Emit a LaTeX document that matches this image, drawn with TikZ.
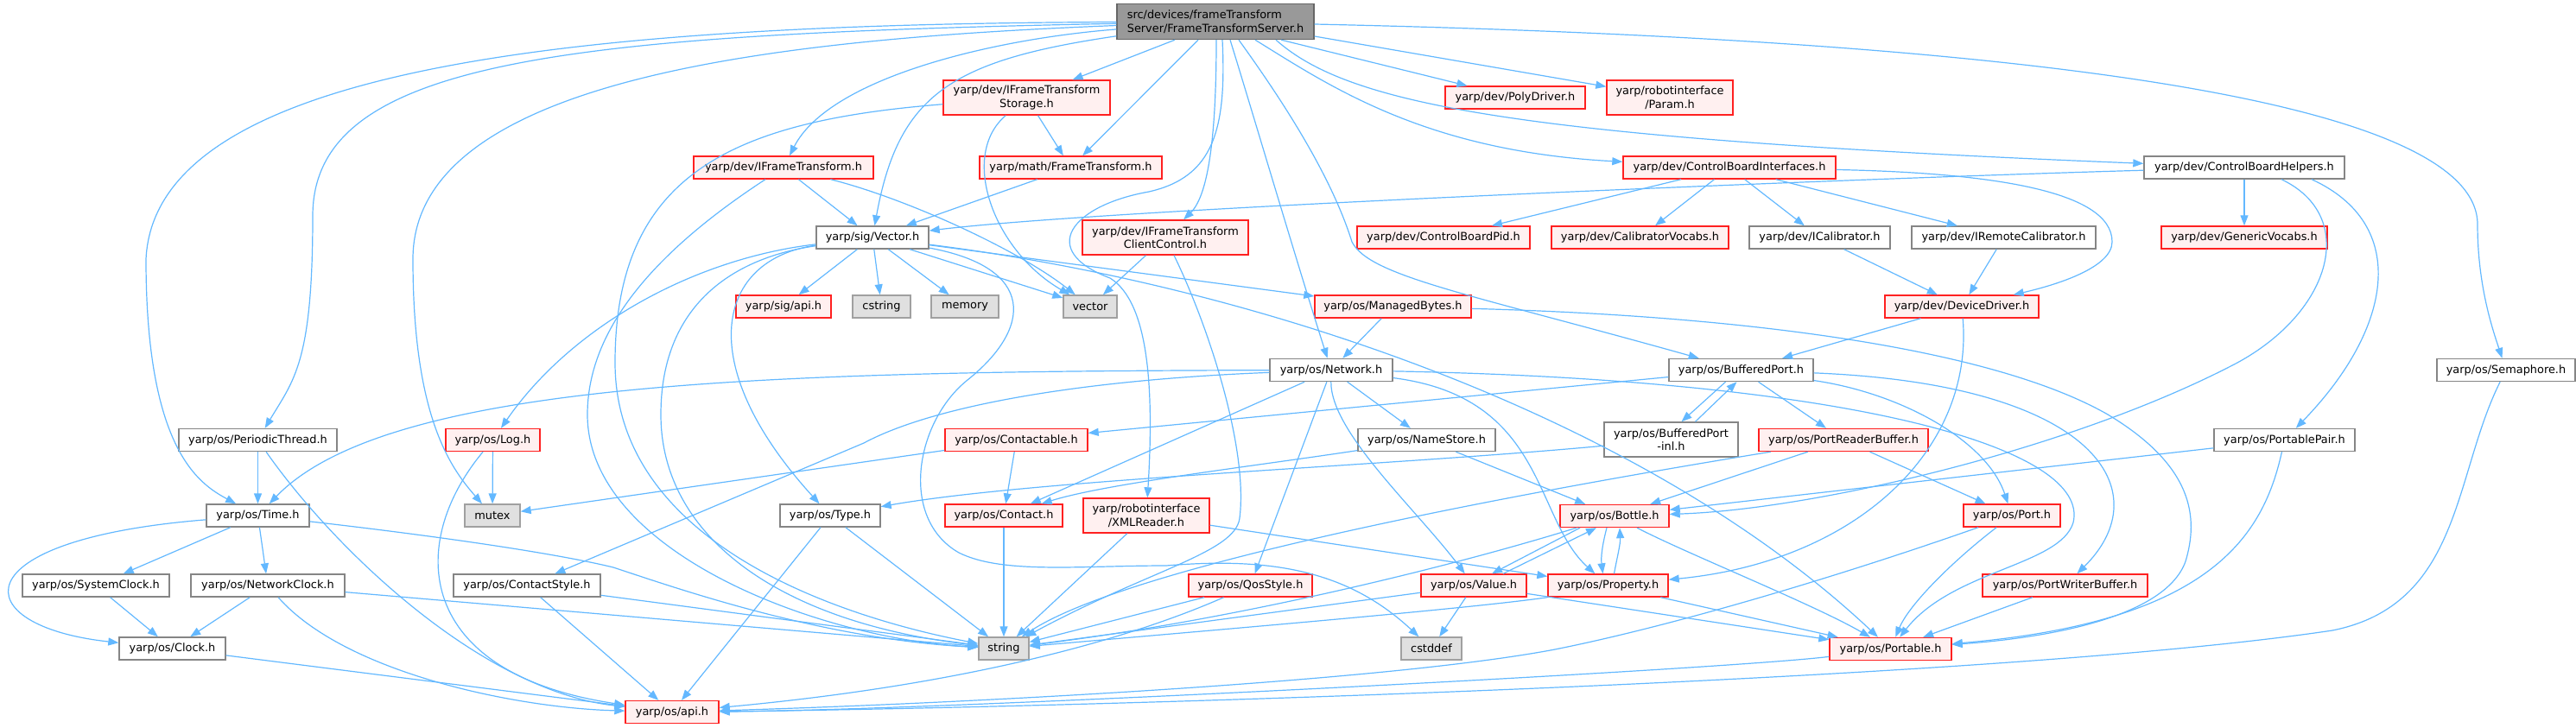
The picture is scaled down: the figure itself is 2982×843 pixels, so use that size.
\documentclass[tikz,border=0pt]{standalone}
\usepackage{fontspec}
\setmainfont{DejaVu Sans}
\usetikzlibrary{arrows.meta}

\definecolor{edgeblue}{HTML}{63B8FF}
\definecolor{redfill}{HTML}{FFF0F0}
\definecolor{redline}{HTML}{FF2020}
\definecolor{plainline}{HTML}{858585}
\definecolor{stdfill}{HTML}{E0E0E0}
\definecolor{stdline}{HTML}{A0A0A0}
\definecolor{srcfill}{HTML}{999999}
\definecolor{srcline}{HTML}{666666}

\begin{document}
\begin{tikzpicture}[
        x=1pt, y=-1pt,
        header/.style={
            draw=plainline,
            fill=white,
            line width=1.4pt,
            inner sep=0pt,
            align=center,
            minimum height=26pt,
            font=\fontsize{12.9}{15.6}\selectfont
        },
        docheader/.style={header, draw=redline, fill=redfill},
        stdheader/.style={header, draw=stdline, fill=stdfill},
        srcfile/.style={header, draw=srcline, fill=srcfill, align=left},
        flow/.style={draw=edgeblue, line width=1.2pt,
            -{Triangle[length=12pt,width=9pt]}}
    ]
    \useasboundingbox (0,0) rectangle (2982,843);

    % the file itself
    \node[srcfile, minimum width=228pt, minimum height=41pt] (root) at (1407,25)
        {src/devices/frameTransform\\Server/FrameTransformServer.h};

    % first rows
    \node[docheader, minimum width=193pt, minimum height=40pt] (storage) at (1188.5,113)
        {yarp/dev/IFrameTransform\\Storage.h};
    \node[docheader, minimum width=162pt] (polydrv) at (1754,113) {yarp/dev/PolyDriver.h};
    \node[docheader, minimum width=146pt, minimum height=40pt] (param) at (1933,113)
        {yarp/robotinterface\\/Param.h};

    \node[docheader, minimum width=208pt] (iftrans) at (907,194) {yarp/dev/IFrameTransform.h};
    \node[docheader, minimum width=211pt] (mathft) at (1239.5,194) {yarp/math/FrameTransform.h};
    \node[docheader, minimum width=246pt] (cbifaces) at (2002,194) {yarp/dev/ControlBoardInterfaces.h};
    \node[header, minimum width=232pt] (cbhelpers) at (2598,194) {yarp/dev/ControlBoardHelpers.h};

    \node[header, minimum width=130pt] (vec) at (1010,275) {yarp/sig/Vector.h};
    \node[docheader, minimum width=192pt, minimum height=40pt] (clientctl) at (1349,275)
        {yarp/dev/IFrameTransform\\ClientControl.h};
    \node[docheader, minimum width=200pt] (cbpid) at (1671,275) {yarp/dev/ControlBoardPid.h};
    \node[docheader, minimum width=205pt] (calvocabs) at (1898.5,275) {yarp/dev/CalibratorVocabs.h};
    \node[header, minimum width=163pt] (icalib) at (2106.5,275) {yarp/dev/ICalibrator.h};
    \node[header, minimum width=213pt] (iremcal) at (2319.5,275) {yarp/dev/IRemoteCalibrator.h};
    \node[docheader, minimum width=192pt] (genvocabs) at (2598,275) {yarp/dev/GenericVocabs.h};

    \node[docheader, minimum width=110pt] (sigapi) at (907,355) {yarp/sig/api.h};
    \node[stdheader, minimum width=67pt] (cstring) at (1020.5,355) {cstring};
    \node[stdheader, minimum width=78pt] (memory) at (1117,355) {memory};
    \node[stdheader, minimum width=62pt] (vector) at (1262,355) {vector};
    \node[docheader, minimum width=181pt] (mbytes) at (1612.5,355) {yarp/os/ManagedBytes.h};
    \node[docheader, minimum width=178pt] (devdrv) at (2271,355) {yarp/dev/DeviceDriver.h};

    \node[header, minimum width=142pt] (network) at (1541,428.5) {yarp/os/Network.h};
    \node[header, minimum width=167pt] (bport) at (2015.5,428.5) {yarp/os/BufferedPort.h};
    \node[header, minimum width=160pt] (semaphore) at (2901,428.5) {yarp/os/Semaphore.h};

    \node[header, minimum width=183pt] (pthread) at (298.5,509.5) {yarp/os/PeriodicThread.h};
    \node[docheader, minimum width=109pt] (oslog) at (570.5,509.5) {yarp/os/Log.h};
    \node[docheader, minimum width=165pt] (contactable) at (1176.5,509.5) {yarp/os/Contactable.h};
    \node[header, minimum width=159pt] (namestore) at (1651.5,509.5) {yarp/os/NameStore.h};
    \node[header, minimum width=155pt, minimum height=40pt] (bportinl) at (1934.5,509)
        {yarp/os/BufferedPort\\-inl.h};
    \node[docheader, minimum width=196pt] (prbuf) at (2134,509.5) {yarp/os/PortReaderBuffer.h};
    \node[header, minimum width=163pt] (ppair) at (2644.5,509.5) {yarp/os/PortablePair.h};

    \node[header, minimum width=119pt] (ostime) at (298.5,597) {yarp/os/Time.h};
    \node[stdheader, minimum width=64pt] (mutex) at (570,597) {mutex};
    \node[header, minimum width=116pt] (ostype) at (961,597) {yarp/os/Type.h};
    \node[docheader, minimum width=136pt] (contact) at (1162,597) {yarp/os/Contact.h};
    \node[docheader, minimum width=146pt, minimum height=40pt] (xmlreader) at (1327,597)
        {yarp/robotinterface\\/XMLReader.h};
    \node[docheader, minimum width=126pt] (bottle) at (1869,597.5) {yarp/os/Bottle.h};
    \node[docheader, minimum width=112pt] (port) at (2329,597) {yarp/os/Port.h};

    \node[header, minimum width=170pt] (sysclock) at (111,678) {yarp/os/SystemClock.h};
    \node[header, minimum width=178pt] (netclock) at (310,678) {yarp/os/NetworkClock.h};
    \node[header, minimum width=170pt] (cstyle) at (610,678) {yarp/os/ContactStyle.h};
    \node[docheader, minimum width=143pt] (qos) at (1447.5,678) {yarp/os/QosStyle.h};
    \node[docheader, minimum width=122pt] (value) at (1706,678) {yarp/os/Value.h};
    \node[docheader, minimum width=139pt] (property) at (1861.5,678) {yarp/os/Property.h};
    \node[docheader, minimum width=191pt] (pwbuf) at (2390.5,678) {yarp/os/PortWriterBuffer.h};

    \node[header, minimum width=123pt] (clock) at (199.5,751) {yarp/os/Clock.h};
    \node[stdheader, minimum width=58pt] (string) at (1162,751) {string};
    \node[stdheader, minimum width=70pt] (cstddef) at (1657,751) {cstddef};
    \node[docheader, minimum width=141pt] (portable) at (2188.5,751.5) {yarp/os/Portable.h};

    \node[docheader, minimum width=108pt] (osapi) at (778,824.5) {yarp/os/api.h};

    % includes of the server header
    \draw[flow] ([xshift=-47pt]root.south) -- (storage);
    \draw[flow] ([xshift=-20pt]root.south) -- (mathft);
    \draw[flow] ([xshift=1pt]root.south) .. controls (1408,150) and (1400,225) .. (clientctl);
    \draw[flow] ([xshift=8pt]root.south) .. controls (1420,150) and (1405,205) .. (1330,222)
        .. controls (1240,238) and (1200,290) .. (1285,322)
        .. controls (1330,350) and (1336,450) .. (xmlreader);
    \draw[flow] ([xshift=17pt]root.south) .. controls (1450,130) and (1500,300) .. (network);
    \draw[flow] ([xshift=27pt]root.south) .. controls (1480,110) and (1540,200) .. (1565,280)
        .. controls (1585,320) and (1700,340) .. (bport);
    \draw[flow] ([xshift=46pt]root.south) .. controls (1540,100) and (1650,175) .. (cbifaces);
    \draw[flow] ([xshift=70pt]root.south) .. controls (1560,120) and (1750,160) .. (cbhelpers);
    \draw[flow] ([xshift=76pt]root.south) -- (polydrv);
    \draw[flow] ([yshift=-17pt]root.east) -- (param);
    \draw[flow] ([yshift=-3pt]root.east) .. controls (2300,45) and (2868,110) .. (2868,260)
        .. controls (2868,330) and (2885,380) .. (semaphore);
    \draw[flow] (root) .. controls (1150,45) and (960,90) .. (iftrans);
    \draw[flow] (root) .. controls (1100,70) and (1040,110) .. (vec);
    \draw[flow] (root) .. controls (700,28) and (180,70) .. (169,300)
        .. controls (169,520) and (230,560) .. (ostime);
    \draw[flow] (root) .. controls (650,40) and (362,70) .. (362,250)
        .. controls (362,420) and (340,440) .. (pthread);
    \draw[flow] (root) .. controls (900,45) and (478,90) .. (478,300)
        .. controls (478,480) and (520,540) .. (mutex);

    % frame transform headers
    \draw[flow] (storage) -- (mathft);
    \draw[flow] (storage) .. controls (1110,180) and (1150,290) .. (vector);
    \draw[flow] (storage) .. controls (850,140) and (712,200) .. (712,420)
        .. controls (712,620) and (950,710) .. (string);
    \draw[flow] (iftrans) -- (vec);
    \draw[flow] (iftrans) .. controls (1050,230) and (1180,290) .. (vector);
    \draw[flow] (iftrans) .. controls (760,290) and (680,380) .. (680,480)
        .. controls (680,640) and (950,740) .. (string);
    \draw[flow] (mathft) -- (vec);
    \draw[flow] (clientctl) -- (vector);
    \draw[flow] (clientctl) .. controls (1400,380) and (1445,520) .. (1435,600)
        .. controls (1430,640) and (1330,660) .. (string);

    % yarp/sig/Vector.h
    \draw[flow] (vec) -- (sigapi);
    \draw[flow] (vec) -- (cstring);
    \draw[flow] (vec) -- (memory);
    \draw[flow] (vec) -- (vector);
    \draw[flow] (vec) -- (mbytes);
    \draw[flow] (vec) .. controls (800,300) and (660,380) .. (oslog);
    \draw[flow] (vec) .. controls (830,300) and (800,420) .. (ostype);
    \draw[flow] (vec) .. controls (840,300) and (765,360) .. (765,480)
        .. controls (765,620) and (900,720) .. (string);
    \draw[flow] (vec) .. controls (1200,310) and (1195,380) .. (1120,440)
        .. controls (1060,488) and (1040,600) .. (1110,640)
        .. controls (1160,665) and (1250,655) .. (1350,655)
        .. controls (1470,645) and (1560,660) .. (cstddef);
    \draw[flow] (vec) .. controls (1450,330) and (1900,480) .. (portable);

    % control board headers
    \draw[flow] (cbifaces) -- (cbpid);
    \draw[flow] (cbifaces) -- (calvocabs);
    \draw[flow] (cbifaces) -- (icalib);
    \draw[flow] (cbifaces) -- (iremcal);
    \draw[flow] (cbifaces) .. controls (2300,200) and (2445,220) .. (2445,280)
        .. controls (2445,310) and (2380,330) .. (devdrv);
    \draw[flow] (icalib) -- (devdrv);
    \draw[flow] (iremcal) -- (devdrv);
    \draw[flow] (cbhelpers) .. controls (2200,205) and (1300,240) .. (vec);
    \draw[flow] (cbhelpers) -- (genvocabs);
    \draw[flow] ([xshift=43pt]cbhelpers.south) .. controls (2730,250) and (2700,360) .. (2590,420)
        .. controls (2400,520) and (2100,590) .. (bottle);
    \draw[flow] ([xshift=78pt]cbhelpers.south) .. controls (2790,260) and (2770,380) .. (ppair);
    \draw[flow] (devdrv) -- (bport);
    \draw[flow] (devdrv) .. controls (2285,520) and (2150,650) .. (property);
    \draw[flow] (mbytes) -- (network);
    \draw[flow] (mbytes) .. controls (2000,365) and (2300,400) .. (2440,480)
        .. controls (2540,540) and (2545,600) .. (2530,650)
        .. controls (2505,720) and (2350,740) .. (portable);

    % yarp/os/Network.h
    \draw[flow] (network) .. controls (900,430) and (450,440) .. (ostime);
    \draw[flow] (network) .. controls (1250,440) and (1080,470) .. (1000,513) -- (cstyle);
    \draw[flow] (network) -- (contact);
    \draw[flow] (network) -- (namestore);
    \draw[flow] (network) -- (qos);
    \draw[flow] (network) .. controls (1540,500) and (1640,590) .. (value);
    \draw[flow] (network) .. controls (1790,460) and (1775,600) .. (property);
    \draw[flow] (network) .. controls (2150,440) and (2420,520) .. (2400,605)
        .. controls (2385,655) and (2260,660) .. (portable);

    % ports
    \draw[flow] (bport) -- (contactable);
    \draw[flow] ([xshift=-18pt]bport.south) -- ([xshift=12pt]bportinl.north);
    \draw[flow] ([xshift=28pt]bportinl.north) -- ([xshift=-5pt]bport.south);
    \draw[flow] (bport) -- (prbuf);
    \draw[flow] (bport) .. controls (2200,455) and (2300,510) .. (port);
    \draw[flow] (bport) .. controls (2430,445) and (2500,570) .. (pwbuf);
    \draw[flow] (bportinl) .. controls (1600,540) and (1200,555) .. (ostype);
    \draw[flow] (prbuf) -- (bottle);
    \draw[flow] (prbuf) -- (port);
    \draw[flow] (prbuf) .. controls (1700,580) and (1300,660) .. (string);
    \draw[flow] (ppair) -- (bottle);
    \draw[flow] (ppair) .. controls (2620,620) and (2560,720) .. (portable);
    \draw[flow] (semaphore) .. controls (2840,550) and (2850,700) .. (2700,730)
        .. controls (2300,790) and (1200,820) .. (osapi);
    \draw[flow] (port) .. controls (2260,650) and (2210,700) .. (portable);
    \draw[flow] (port) .. controls (2150,660) and (1950,722) .. (1800,752)
        .. controls (1600,790) and (1100,815) .. (osapi);
    \draw[flow] (pwbuf) -- (portable);

    % bottle, value, property
    \draw[flow] (bottle) .. controls (1700,650) and (1450,715) .. (string);
    \draw[flow] ([xshift=-40pt]bottle.south) -- ([xshift=21pt]value.north);
    \draw[flow] ([xshift=34pt]value.north) -- ([xshift=-21pt]bottle.south);
    \draw[flow] ([xshift=-9pt]bottle.south) .. controls (1855,630) and (1853,645)
        .. ([xshift=-6pt]property.north);
    \draw[flow] ([xshift=7pt]property.north) .. controls (1872,645) and (1876,630)
        .. ([xshift=6pt]bottle.south);
    \draw[flow] (bottle) .. controls (1950,640) and (2100,700) .. (portable);
    \draw[flow] (value) -- (string);
    \draw[flow] (value) -- (cstddef);
    \draw[flow] (value) -- (portable);
    \draw[flow] (property.south west) .. controls (1700,705) and (1400,730) .. (string);
    \draw[flow] (property) -- (portable);
    \draw[flow] (xmlreader) -- (string);
    \draw[flow] (xmlreader) -- (property);
    \draw[flow] (qos) -- (string);
    \draw[flow] (qos) .. controls (1330,730) and (1150,790) .. (osapi);
    \draw[flow] (namestore) .. controls (1450,540) and (1280,560) .. (contact);
    \draw[flow] (namestore) -- (bottle);
    \draw[flow] (contactable) -- (contact);
    \draw[flow] (contactable) -- (mutex);
    \draw[flow] (contact) -- (string);
    \draw[flow] (ostype) -- (string);
    \draw[flow] (ostype) -- (osapi);
    \draw[flow] (cstyle) -- (string);
    \draw[flow] (cstyle) -- (osapi);
    \draw[flow] (portable) .. controls (2000,775) and (1100,822) .. (osapi);

    % log, thread and clocks
    \draw[flow] (oslog) -- (mutex);
    \draw[flow] (oslog) .. controls (470,630) and (480,780) .. (osapi);
    \draw[flow] (pthread) -- (ostime);
    \draw[flow] (pthread) .. controls (390,640) and (560,800) .. (osapi);
    \draw[flow] (ostime) -- (sysclock);
    \draw[flow] (ostime) -- (netclock);
    \draw[flow] (ostime) .. controls (-50,625) and (-40,725) .. (clock);
    \draw[flow] (ostime) .. controls (500,620) and (640,640) .. (710,657)
        .. controls (780,680) and (950,740) .. (string);
    \draw[flow] (sysclock) -- (clock);
    \draw[flow] (netclock) -- (clock);
    \draw[flow] (netclock) .. controls (400,780) and (600,820) .. (osapi);
    \draw[flow] (netclock) -- (string);
    \draw[flow] (clock) -- (osapi);

\end{tikzpicture}
\end{document}
